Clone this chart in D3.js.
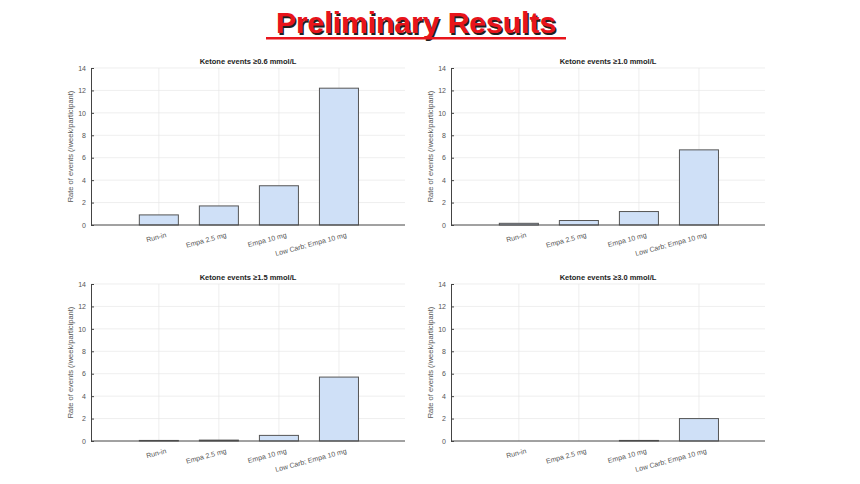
<!DOCTYPE html>
<html lang="en">
<head>
<meta charset="UTF-8">
<title>Preliminary Results</title>
<script src="https://d3js.org/d3.v7.min.js"></script>
<style>
  body { margin: 0; background: #fff; font-family: "Liberation Sans", Arial, sans-serif; }
</style>
</head>
<body>
<script>
var categories = ['Run-in', 'Empa 2.5 mg', 'Empa 10 mg', 'Low Carb; Empa 10 mg'];
var titles = ['0.6', '1.0', '1.5', '3.0'];
var seriesA = [0.9, 1.7, 3.5, 12.2];
var seriesB = [0.15, 0.4, 1.2, 6.7];
var seriesC = [0.05, 0.08, 0.5, 5.7];
var seriesD = [0, 0, 0.05, 2.0];
var yTicks = [0, 2, 4, 6, 8, 10, 12, 14];

var svg = d3.select('body').append('svg').attr('width', 860).attr('height', 484);

// slide title
svg.append('text').attr('x', 416).attr('y', 33).attr('text-anchor', 'middle')
  .attr('font-size', 30).attr('font-weight', 'bold').attr('fill', '#202020')
  .attr('transform', 'translate(1.5,1.5)').text('Preliminary Results');
svg.append('text').attr('x', 416).attr('y', 33).attr('text-anchor', 'middle')
  .attr('font-size', 30).attr('font-weight', 'bold').attr('fill', '#e8141b')
  .text('Preliminary Results');
svg.append('rect').attr('x', 266).attr('y', 37).attr('width', 300).attr('height', 2.5).attr('fill', '#e8141b');

var panels = [
  { data: seriesA, title: titles[0], left: 91, top: 68 },
  { data: seriesB, title: titles[1], left: 451, top: 68 },
  { data: seriesC, title: titles[2], left: 91, top: 284 },
  { data: seriesD, title: titles[3], left: 451, top: 284 }
];

panels.forEach(function(p) {
  var w = 314, h = 157;
  var g = svg.append('g').attr('transform', 'translate(' + p.left + ',' + p.top + ')');
  var x = d3.scaleLinear().domain([-1.13, 4.1]).range([0, w]);
  var y = d3.scaleLinear().domain([0, 14]).range([h, 0]);

  // grid
  g.selectAll('.gy').data(yTicks.slice(1)).enter().append('line')
    .attr('x1', 0).attr('x2', w).attr('y1', y).attr('y2', y)
    .attr('stroke', '#e6e6e6').attr('stroke-width', 0.7);
  g.selectAll('.gx').data(d3.range(categories.length)).enter().append('line')
    .attr('y1', 0).attr('y2', h).attr('x1', x).attr('x2', x)
    .attr('stroke', '#e6e6e6').attr('stroke-width', 0.7);

  // bars
  var bw = x(0.65) - x(0);
  g.selectAll('rect.bar').data(p.data).enter().append('rect')
    .attr('x', function(d, i) { return x(i) - bw / 2; })
    .attr('y', function(d) { return y(d); })
    .attr('width', bw)
    .attr('height', function(d) { return h - y(d); })
    .attr('fill', '#cfe0f7').attr('stroke', '#555').attr('stroke-width', 1);

  // y axis
  var ya = g.append('g').call(d3.axisLeft(y).tickValues(yTicks).tickSize(-3).tickPadding(5));
  ya.select('.domain').attr('stroke', '#444');
  ya.selectAll('.tick line').attr('stroke', '#444');
  ya.selectAll('text').attr('font-size', 7).attr('fill', '#555');

  // x axis
  g.append('line').attr('x1', 0).attr('x2', w).attr('y1', h).attr('y2', h).attr('stroke', '#444');
  g.selectAll('.xl').data(categories).enter().append('text')
    .attr('transform', function(d, i) { return 'translate(' + (x(i) + 8) + ',' + (h + 12) + ') rotate(-15)'; })
    .attr('text-anchor', 'end').attr('font-size', 7).attr('fill', '#555').text(function(d) { return d; });

  // title
  var t = g.append('text').attr('x', w / 2).attr('y', -4).attr('text-anchor', 'middle')
    .attr('font-size', 7.5).attr('font-weight', 'bold').attr('fill', '#222');
  t.text('Ketone events \u2265' + p.title + ' mmol/L');

  // y label
  g.append('text').attr('transform', 'translate(-18,' + (h / 2) + ') rotate(-90)')
    .attr('text-anchor', 'middle').attr('font-size', 7.5).attr('fill', '#555')
    .text('Rate of events (/week/participant)');
});
</script>
</body>
</html>
